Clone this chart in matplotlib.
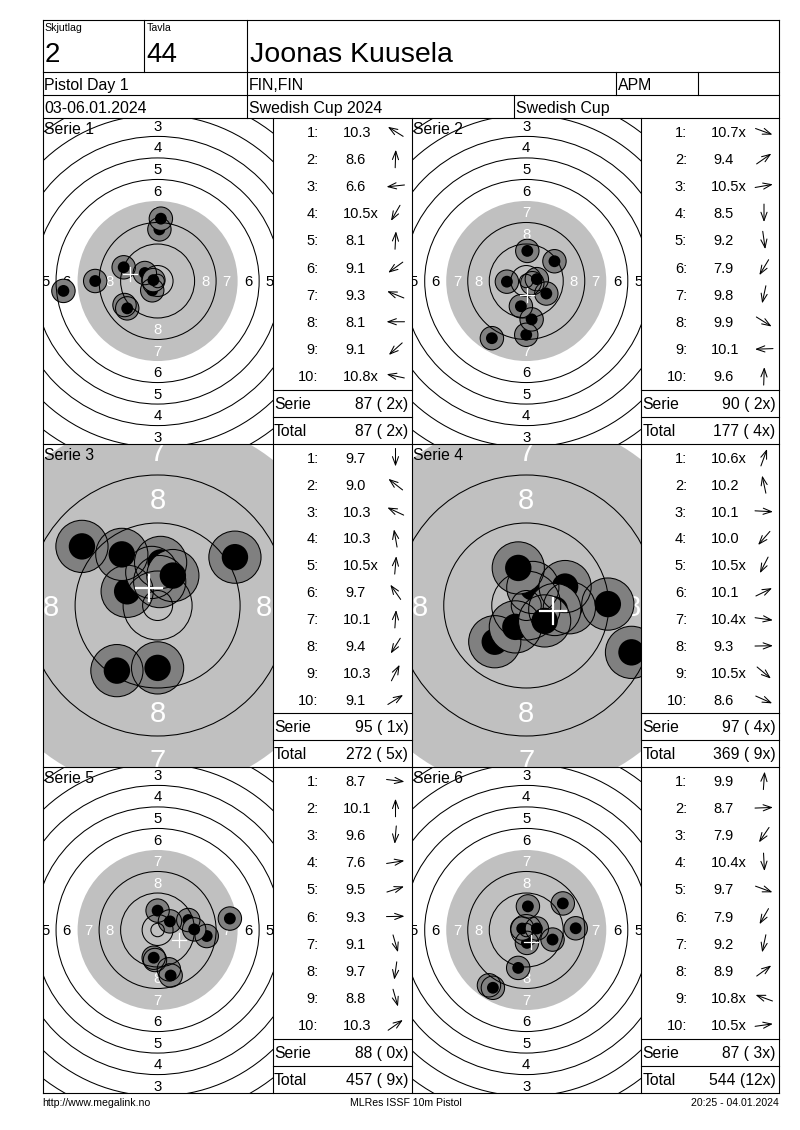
import math
import matplotlib
matplotlib.use("Agg")
import matplotlib.pyplot as plt
from matplotlib.patches import Circle

plt.rcParams['font.family'] = ['Liberation Sans', 'DejaVu Sans']

# ---------------- data ----------------
label_relay = "Skjutlag"
label_target = "Tavla"
relay = "2"
target_no = "44"
shooter = "Joonas Kuusela"
event = "Pistol Day 1"
nation = "FIN,FIN"
shooter_class = "APM"
date_range = "03-06.01.2024"
competition = "Swedish Cup 2024"
cup_name = "Swedish Cup"
footer_left = "http://www.megalink.no"
footer_mid = "MLRes ISSF 10m Pistol"
footer_right = "20:25 - 04.01.2024"

serie_labels = ["Serie 1", "Serie 2", "Serie 3", "Serie 4", "Serie 5", "Serie 6"]

scores_s1 = ["10.3", "8.6", "6.6", "10.5x", "8.1", "9.1", "9.3", "8.1", "9.1", "10.8x"]
angles_s1 = [148, 88, 186, 240, 87, 216, 158, 180, 222, 168]

scores_s2 = ["10.7x", "9.4", "10.5x", "8.5", "9.2", "7.9", "9.8", "9.9", "10.1", "9.6"]
angles_s2 = [340, 35, 10, 270, 278, 239, 258, 328, 182, 88]

scores_s3 = ["9.7", "9.0", "10.3", "10.3", "10.5x", "9.7", "10.1", "9.4", "10.3", "9.1"]
angles_s3 = [270, 142, 155, 100, 85, 125, 86, 238, 63, 32]

scores_s4 = ["10.6x", "10.2", "10.1", "10.0", "10.5x", "10.1", "10.4x", "9.3", "10.5x", "8.6"]
angles_s4 = [70, 102, 357, 229, 243, 26, 352, 1, 320, 336]

scores_s5 = ["8.7", "10.1", "9.6", "7.6", "9.5", "9.3", "9.1", "9.7", "8.8", "10.3"]
angles_s5 = [353, 90, 265, 9, 18, 1, 286, 262, 286, 35]

scores_s6 = ["9.9", "8.7", "7.9", "10.4x", "9.7", "7.9", "9.2", "8.9", "10.8x", "10.5x"]
angles_s6 = [86, 2, 236, 273, 340, 240, 258, 36, 160, 8]

all_scores = [scores_s1, scores_s2, scores_s3, scores_s4, scores_s5, scores_s6]
all_angles = [angles_s1, angles_s2, angles_s3, angles_s4, angles_s5, angles_s6]

# ---------------- layout / style ----------------
W, H = 800, 1130
X0, X1 = 42.7, 778.5
Y_TOP, Y_H1, Y_H2 = 20.0, 71.5, 95.0
cols = [42.7, 272.5, 411.5, 641.0, 778.5]
rows = [118.0, 444.0, 767.0, 1093.0]
panel_scales = [2.69, 2.69, 6.0, 6.0, 2.69, 2.69]   # px per mm
LW = 0.8
AIM_GRAY = '#c0c0c0'
SHOT_GRAY = '#808080'

fig = plt.figure(figsize=(W / 100, H / 100), dpi=100)
ov = fig.add_axes([0, 0, 1, 1], zorder=10)
ov.set_xlim(0, W)
ov.set_ylim(H, 0)
ov.axis('off')


def cap_px(fs):
    return 0.716 * fs * 100 / 72


def txt(x, yc, s, fs, ha='left', color='k'):
    ov.text(x, yc + cap_px(fs) / 2, s, fontsize=fs, ha=ha, va='baseline', color=color)


def hline(y, xa, xb):
    ov.plot([xa, xb], [y, y], color='k', lw=LW, solid_capstyle='projecting')


def vline(x, ya, yb):
    ov.plot([x, x], [ya, yb], color='k', lw=LW, solid_capstyle='projecting')


# frame and header grid
hline(Y_TOP, X0, X1)
hline(Y_H1, X0, X1)
hline(Y_H2, X0, X1)
for y in rows:
    hline(y, X0, X1)
vline(X0, Y_TOP, rows[-1])
vline(X1, Y_TOP, rows[-1])
vline(144.3, Y_TOP, Y_H1)
vline(246.7, Y_TOP, rows[0])
vline(615.5, Y_H1, Y_H2)
vline(697.5, Y_H1, Y_H2)
vline(513.5, Y_H2, rows[0])
for x in cols[1:-1]:
    vline(x, rows[0], rows[-1])

# header texts
txt(44.5, 27.5, label_relay, 7.6)
txt(146.5, 27.5, label_target, 7.6)
txt(44.5, 52.0, relay, 20)
txt(146.5, 52.0, target_no, 20)
txt(249.5, 52.0, shooter, 20.5)
txt(44.5, 84.5, event, 11.4)
txt(249.0, 84.5, nation, 11.4)
txt(618.0, 84.5, shooter_class, 11.4)
txt(44.5, 107.5, date_range, 11.4)
txt(249.0, 107.5, competition, 11.4)
txt(516.0, 107.5, cup_name, 11.4)

# footer
txt(42.0, 1102.5, footer_left, 7.6)
txt(406.0, 1102.5, footer_mid, 7.6, ha='center')
txt(778.5, 1102.5, footer_right, 7.6, ha='right')


def ring_r(k):
    return 5.75 + 8.0 * (10 - k)


running_total = 0
running_x = 0
for i in range(6):
    r, c = divmod(i, 2)
    tx0, tx1 = cols[2 * c], cols[2 * c + 1]
    lx0, lx1 = cols[2 * c + 1], cols[2 * c + 2]
    y0, y1 = rows[r], rows[r + 1]
    scale = panel_scales[i]
    big = scale > 4
    scores = all_scores[i]
    angles = all_angles[i]

    # ---- target panel ----
    ax = fig.add_axes([tx0 / W, 1 - y1 / H, (tx1 - tx0) / W, (y1 - y0) / H], zorder=1)
    hw = (tx1 - tx0) / 2 / scale
    hh = (y1 - y0) / 2 / scale
    ax.set_xlim(-hw, hw)
    ax.set_ylim(-hh, hh)
    ax.axis('off')

    aim_r = ring_r(7) + (1.2 if big else 0.0)
    ax.add_patch(Circle((0, 0), aim_r, fc=AIM_GRAY, ec='none', zorder=1))
    for k in range(1, 11):
        if k == 7:
            continue
        ax.add_patch(Circle((0, 0), ring_r(k), fill=False, ec='k', lw=0.75, zorder=4))
    ax.add_patch(Circle((0, 0), 2.5, fill=False, ec='k', lw=0.75, zorder=4))

    lab_fs = 21.0 if big else 10.7
    cap_mm = cap_px(lab_fs) / scale
    for k in range(1, 9):
        m = ring_r(k) - 4.0
        col = 'white' if k >= 7 else 'black'
        for (px, py) in [(0, m), (0, -m), (m, 0), (-m, 0)]:
            if abs(px) > hw + 0.3 * cap_mm or abs(py) > hh + 0.3 * cap_mm:
                continue
            ax.text(px, py - cap_mm / 2, str(k), fontsize=lab_fs, ha='center',
                    va='baseline', color=col, zorder=1.5, clip_on=True)

    xs, ys = [], []
    for j, (s, a) in enumerate(zip(scores, angles)):
        v = float(s.rstrip('x'))
        d = (11.0 - v) * 8.0
        x = d * math.cos(math.radians(a))
        y = d * math.sin(math.radians(a))
        xs.append(x)
        ys.append(y)
        ax.add_patch(Circle((x, y), 4.35, fc=SHOT_GRAY, ec='none', zorder=2 + j * 0.02))
        ax.add_patch(Circle((x, y), 2.2, fc='k', ec='none', zorder=2.01 + j * 0.02))
    for x, y in zip(xs, ys):
        ax.add_patch(Circle((x, y), 4.35, fill=False, ec='k', lw=0.75, zorder=3))

    mx = sum(xs) / len(xs)
    my = sum(ys) / len(ys)
    half = (13.0 if big else 7.0) / scale
    clw = 1.6 if big else 0.9
    ax.plot([mx - half, mx + half], [my, my], color='white', lw=clw, zorder=6)
    ax.plot([mx, mx], [my - half, my + half], color='white', lw=clw, zorder=6)

    txt(tx0 + 1.5, y0 + 10.5, serie_labels[i], 11.3)

    # ---- score list ----
    rh = (y1 - y0) / 12.0
    hline(y0 + 10 * rh, lx0, lx1)
    hline(y0 + 11 * rh, lx0, lx1)
    for j, (s, a) in enumerate(zip(scores, angles)):
        yc = y0 + (j + 0.5) * rh
        txt(lx0 + 46.0, yc, f"{j + 1}:", 10.5, ha='right')
        sx = lx0 + 70.0 if s.startswith('10') else lx0 + 72.7
        txt(sx, yc, s, 10.5)
        cx, cy = lx0 + 123.0, yc
        L = 18.0
        dx = math.cos(math.radians(a)) * L / 2
        dy = -math.sin(math.radians(a)) * L / 2
        ov.annotate('', xy=(cx + dx, cy + dy), xytext=(cx - dx, cy - dy),
                    arrowprops=dict(arrowstyle='->,head_length=0.6,head_width=0.22',
                                    lw=0.75, color='k', shrinkA=0, shrinkB=0,
                                    mutation_scale=10))
    serie_sum = sum(int(float(s.rstrip('x'))) for s in scores)
    serie_x = sum(1 for s in scores if s.endswith('x'))
    running_total += serie_sum
    running_x += serie_x
    yc = y0 + 10.5 * rh
    txt(lx0 + 1.5, yc, "Serie", 11.3)
    txt(lx1 - 3.2, yc, f"{serie_sum} ({serie_x:2d}x)", 11.3, ha='right')
    yc = y0 + 11.5 * rh
    txt(lx0 + 1.5, yc, "Total", 11.3)
    txt(lx1 - 3.2, yc, f"{running_total} ({running_x:2d}x)", 11.3, ha='right')

fig.savefig("out.png", dpi=100)
